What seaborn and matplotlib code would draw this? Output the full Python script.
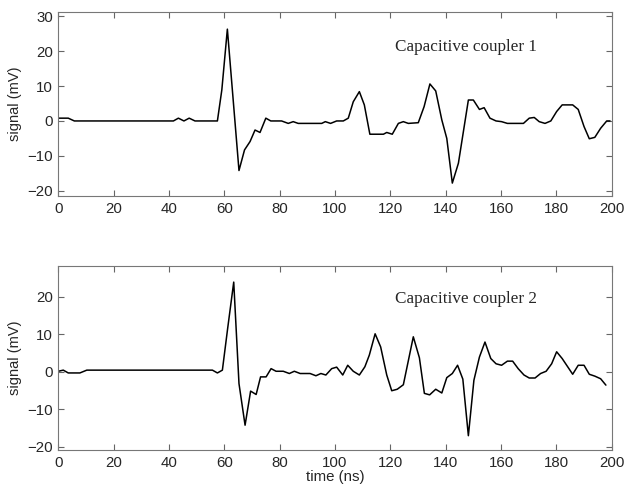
import matplotlib
matplotlib.use("Agg")
import matplotlib.pyplot as plt
import seaborn as sns
import pandas as pd

# ---- data ----
t1 = [0, 3.6, 5.8, 41.6, 43.4, 45.4, 47.3, 49.4, 57.5, 59.1,
      61.1, 65.3, 67.3, 69.3, 71.1, 72.9, 75.0, 76.8, 80.7, 83.1,
      84.9, 86.7, 95.2, 96.5, 98.4, 100.6, 103.0, 104.8, 106.6, 108.8,
      110.6, 112.6, 117.5, 118.7, 120.7, 122.9, 124.7, 126.5, 130.1, 132.2,
      134.3, 136.4, 138.6, 140.4, 142.4, 144.6, 148.2, 150.0, 152.2, 153.9,
      156.0, 158.2, 160.2, 162.3, 168.1, 170.2, 172.0, 173.8, 175.9, 178.0,
      180.1, 182.1, 185.9, 187.9, 190.0, 191.9, 193.9, 196.0, 198.2, 199.4]
s1 = [0.8, 0.8, 0, 0, 0.8, 0, 0.8, 0, 0, 8.9,
      26.3, -14.2, -8.3, -5.9, -2.6, -3.3, 0.8, 0, 0, -0.7,
      -0.2, -0.7, -0.7, -0.2, -0.7, 0, 0, 0.8, 5.5, 8.4,
      4.6, -3.8, -3.8, -3.3, -3.8, -0.7, -0.2, -0.7, -0.5, 4.1,
      10.6, 8.6, 0.3, -5, -17.8, -12.1, 6, 6, 3.3, 3.8,
      0.8, 0, -0.2, -0.7, -0.7, 0.8, 1.0, -0.2, -0.7, 0,
      2.7, 4.6, 4.6, 3.3, -1.6, -5.1, -4.7, -2.1, 0, 0]

t2 = [0, 1.8, 3.6, 7.8, 10.3, 55.7, 57.5, 59.3, 61.2, 63.4,
      65.3, 67.5, 69.5, 71.5, 73.1, 75.1, 76.9, 78.7, 81.3, 83.5,
      85.3, 87.4, 91.0, 93.1, 94.9, 96.7, 98.8, 100.6, 102.8, 104.6,
      106.6, 108.8, 110.8, 112.4, 114.5, 116.5, 118.7, 120.5, 122.5, 124.7,
      128.3, 130.5, 132.3, 134.2, 136.4, 138.6, 140.4, 142.4, 144.3, 146.2,
      148.2, 150.2, 152.2, 154.2, 156.3, 158.2, 160.2, 162.3, 164.2, 166.2,
      168.3, 170.2, 172.3, 174.3, 176.3, 178.3, 180.1, 182.1, 185.9, 187.9,
      190.0, 191.9, 193.9, 196.0, 197.9]
s2 = [0.1, 0.4, -0.35, -0.35, 0.4, 0.4, -0.35, 0.4, 11.5, 23.9,
      -3.2, -14.3, -5.2, -6.1, -1.4, -1.4, 0.8, 0.1, 0.1, -0.5,
      0.1, -0.5, -0.5, -1.1, -0.5, -0.9, 0.8, 1.2, -0.9, 1.7,
      0.1, -0.9, 1.3, 4.4, 10.1, 6.6, -0.9, -5.1, -4.7, -3.5,
      9.3, 3.7, -5.8, -6.2, -4.7, -5.7, -1.6, -0.5, 1.7, -2.0,
      -17.1, -2.3, 3.9, 7.9, 3.5, 2.1, 1.7, 2.8, 2.8, 0.8,
      -0.9, -1.7, -1.7, -0.5, 0.1, 2.1, 5.3, 3.5, -0.7, 1.7,
      1.7, -0.7, -1.2, -1.9, -3.6]

titles = ["Capacitive coupler 1", "Capacitive coupler 2"]
xticks = [0, 20, 40, 60, 80, 100, 120, 140, 160, 180, 200]
yticks1 = [-20, -10, 0, 10, 20, 30]
yticks2 = [-20, -10, 0, 10, 20]

sns.set_style("ticks")
plt.rcParams["font.family"] = ["Liberation Sans", "DejaVu Sans"]

fig = plt.figure(figsize=(6.24, 4.86), dpi=100)
W, H = 624, 486
x0, x1 = 58.3, 611.7
ax1 = fig.add_axes([x0 / W, 1 - 196 / H, (x1 - x0) / W, (196 - 11.7) / H])
ax2 = fig.add_axes([x0 / W, 1 - 450.3 / H, (x1 - x0) / W, (450.3 - 266) / H])

df1 = pd.DataFrame({"t": t1, "s": s1})
df2 = pd.DataFrame({"t": t2, "s": s2})

sns.lineplot(data=df1, x="t", y="s", ax=ax1, color="black", lw=1.1, estimator=None)
sns.lineplot(data=df2, x="t", y="s", ax=ax2, color="black", lw=1.1, estimator=None)

cfg = [(ax1, (-21.5, 31.3), yticks1, titles[0], 21.3),
       (ax2, (-21.0, 28.2), yticks2, titles[1], 19.4)]
for ax, ylim, yt, title, ty in cfg:
    ax.set_xlim(0, 200)
    ax.set_ylim(*ylim)
    ax.set_xticks(xticks)
    ax.set_yticks(yt)
    ax.tick_params(direction="in", top=True, right=True, length=4, width=0.8,
                   color="#666666", labelsize=10.8, pad=4)
    for sp in ax.spines.values():
        sp.set_visible(True)
        sp.set_color("#777777")
        sp.set_linewidth(0.8)
    ax.set_ylabel("signal (mV)", fontsize=10.5)
    ax.yaxis.set_label_coords(-0.066, 0.5)
    ax.set_xlabel("")
    ax.text(121.7, ty, title, va="center", ha="left",
            fontfamily="Liberation Serif", fontsize=12.3)

ax2.set_xlabel("time (ns)", fontsize=10.8)
ax2.xaxis.set_label_coords(0.5, -0.107)

fig.savefig("out.png", dpi=100)
